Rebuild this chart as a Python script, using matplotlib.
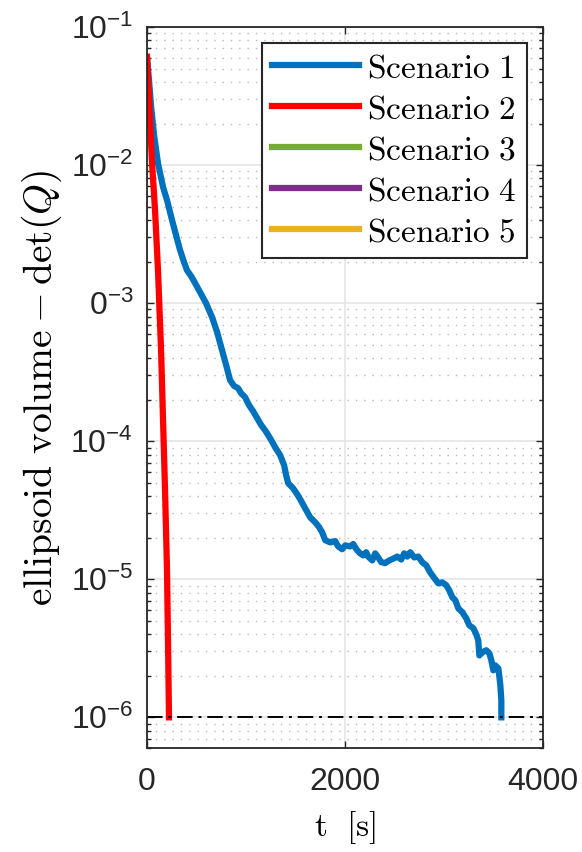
import numpy as np
import matplotlib
matplotlib.use("Agg")
import matplotlib.pyplot as plt
from matplotlib.ticker import LogLocator, FixedLocator, NullFormatter

plt.rcParams["font.family"] = ["Liberation Sans", "DejaVu Sans"]
plt.rcParams["mathtext.fontset"] = "custom"
plt.rcParams["mathtext.rm"] = "Liberation Sans"

# scenario 1 (blue)
t1 = [0, 20, 40, 71, 111, 162, 202, 253, 293, 334, 374, 404, 445, 485,
      536, 596, 657, 708, 758, 799, 839, 880, 920, 950, 991, 1031, 1072,
      1112, 1153, 1193, 1244, 1294, 1345, 1385, 1405, 1426, 1476, 1517,
      1547, 1597, 1648, 1698, 1739, 1769, 1800, 1850, 1901, 1931, 1971,
      2002, 2052, 2083, 2123, 2153, 2184, 2214, 2234, 2275, 2305, 2335,
      2366, 2406, 2447, 2487, 2528, 2568, 2598, 2629, 2659, 2699, 2740,
      2780, 2821, 2861, 2902, 2942, 2982, 3023, 3053, 3084, 3114, 3144,
      3185, 3225, 3255, 3296, 3326, 3346, 3357, 3387, 3427, 3458, 3478,
      3498, 3518, 3549, 3559, 3569, 3579, 3579]
v1 = [6.07e-2, 4.13e-2, 2.72e-2, 1.65e-2, 1.03e-2, 6.93e-3, 5.57e-3,
      3.99e-3, 3.11e-3, 2.42e-3, 1.98e-3, 1.73e-3, 1.57e-3, 1.40e-3,
      1.20e-3, 1.0e-3, 7.92e-4, 6.17e-4, 4.56e-4, 3.56e-4, 2.77e-4,
      2.51e-4, 2.42e-4, 2.23e-4, 2.08e-4, 1.82e-4, 1.65e-4, 1.47e-4,
      1.31e-4, 1.20e-4, 1.05e-4, 9.05e-5, 7.92e-5, 6.70e-5, 5.68e-5,
      4.96e-5, 4.56e-5, 4.13e-5, 3.80e-5, 3.27e-5, 2.81e-5, 2.59e-5,
      2.38e-5, 2.19e-5, 1.92e-5, 1.85e-5, 1.89e-5, 1.73e-5, 1.65e-5,
      1.76e-5, 1.73e-5, 1.80e-5, 1.62e-5, 1.54e-5, 1.49e-5, 1.57e-5,
      1.46e-5, 1.37e-5, 1.54e-5, 1.44e-5, 1.33e-5, 1.31e-5, 1.37e-5,
      1.41e-5, 1.46e-5, 1.39e-5, 1.54e-5, 1.46e-5, 1.57e-5, 1.44e-5,
      1.46e-5, 1.33e-5, 1.26e-5, 1.12e-5, 1.02e-5, 9.35e-6, 9.5e-6,
      9.05e-6, 8.32e-6, 7.41e-6, 7.05e-6, 6.17e-6, 5.77e-6, 5.21e-6,
      4.64e-6, 4.42e-6, 3.99e-6, 3.61e-6, 2.81e-6, 2.96e-6, 3.06e-6,
      2.91e-6, 2.59e-6, 2.19e-6, 2.38e-6, 2.26e-6, 1.98e-6, 1.71e-6,
      1.33e-6, 1.0e-6]

# scenario 2 (red)
t2 = [0, 20, 51, 81, 111, 142, 162, 182, 202, 212, 222]
v2 = [6.07e-2, 2.96e-2, 1.03e-2, 4.72e-3, 1.73e-3, 4.56e-4, 1.42e-4,
      4.42e-5, 1.16e-5, 3.61e-6, 1.0e-6]

labels = ["Scenario 1", "Scenario 2", "Scenario 3", "Scenario 4", "Scenario 5"]
colors = ["#0072BD", "#FF0000", "#77AC30", "#7E2F8E", "#EDB120"]
series = [(t1, v1), (t2, v2), ([], []), ([], []), ([], [])]

threshold = 1e-6
xticks = [0, 2000, 4000]
yticks = [1e-6, 1e-5, 1e-4, 1e-3, 1e-2, 1e-1]
ytick_labels = [r"$\mathrm{10^{-6}}$", r"$\mathrm{10^{-5}}$", r"$\mathrm{10^{-4}}$",
                r"$\mathrm{0^{-3}}$", r"$\mathrm{10^{-2}}$", r"$\mathrm{10^{-1}}$"]

axcol = "#262626"

fig = plt.figure(figsize=(5.82, 8.52), dpi=100)
ax = fig.add_axes([0.2526, 0.1221, 0.6804, 0.8462])

for (t, v), c, lab in zip(series, colors, labels):
    ax.plot(t, v, color=c, lw=4.5, label=lab, solid_joinstyle="round")

ax.axhline(threshold, color="black", lw=1.4, dashes=[8, 3, 1.5, 3])

ax.set_yscale("log")
ax.set_xlim(0, 4000)
ax.set_ylim(6e-7, 1e-1)
ax.xaxis.set_major_locator(FixedLocator(xticks))
ax.set_yticks(yticks)
ax.set_yticklabels(ytick_labels)
ax.yaxis.set_minor_locator(LogLocator(base=10, subs=np.arange(2, 10), numticks=20))
ax.yaxis.set_minor_formatter(NullFormatter())

ax.grid(True, which="major", color="#e3e3e3", lw=1.1, zorder=0)
ax.grid(True, which="minor", axis="y", color="#b8b8b8", lw=1.0,
        linestyle=(0, (1, 5)))
ax.set_axisbelow(True)

ax.tick_params(which="both", direction="in", top=True, right=True,
               colors=axcol, labelsize=23)
ax.tick_params(which="major", length=5, width=1.0)
ax.tick_params(which="minor", length=3, width=1.0)
ax.tick_params(axis="x", pad=14)
ax.tick_params(axis="y", pad=10)
for s in ax.spines.values():
    s.set_color(axcol)
    s.set_linewidth(1.3)

ax.set_ylabel(r"$\mathrm{ellipsoid\ volume} - \det(Q)$", fontsize=28.5,
              math_fontfamily="cm")
ax.yaxis.set_label_coords(-0.21, 0.5)
ax.set_xlabel(r"$\mathrm{t\ \ [s]}$", fontsize=24, math_fontfamily="cm")
ax.xaxis.set_label_coords(0.5, -0.085)

leg = ax.legend(loc="upper right", bbox_to_anchor=(0.9596, 0.9778),
                borderaxespad=0, fontsize=24, fancybox=False, framealpha=1,
                edgecolor=axcol, handlelength=2.6, handletextpad=0.25,
                labelspacing=0.3, borderpad=0.3)
leg.get_frame().set_linewidth(1.5)
for txt in leg.get_texts():
    txt.set_text("$\\mathrm{" + txt.get_text().replace(" ", "\\ ") + "}$")
    txt.set_math_fontfamily("cm")

fig.savefig("out.png", dpi=100)
